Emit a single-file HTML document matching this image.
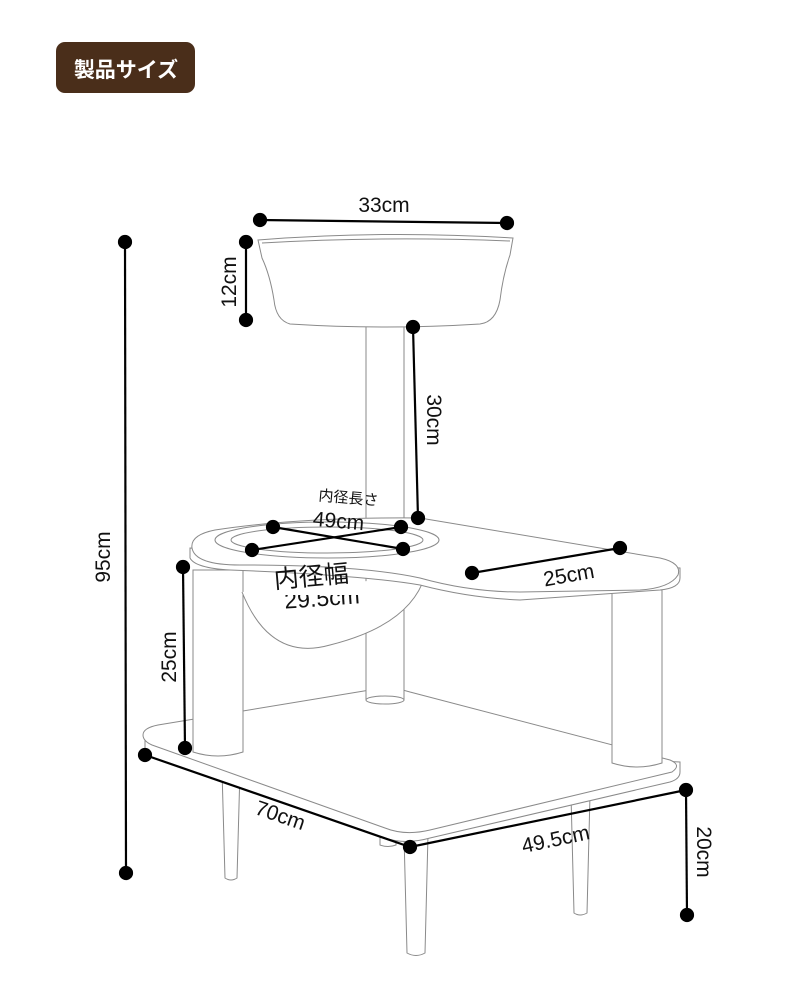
<!DOCTYPE html>
<html><head><meta charset="utf-8"><style>
html,body{margin:0;padding:0;background:#fff;}
svg{display:block;}
text{font-family:"Liberation Sans","Noto Sans CJK JP",sans-serif;fill:#111;}
</style></head><body>
<svg width="790" height="1007" viewBox="0 0 790 1007" xmlns="http://www.w3.org/2000/svg">
<defs><clipPath id="c295"><rect x="240" y="595" width="200" height="40"/></clipPath></defs>
<rect x="56" y="42" width="139" height="51" rx="9" fill="#4a2e1a"/>
<text x="126" y="77" text-anchor="middle" font-size="21" font-weight="bold" style="fill:#fff" font-family="Noto Sans CJK JP,sans-serif">製品サイズ</text>

<g fill="#fff" stroke="#8a8a8a" stroke-width="1">
<path d="M222,770 L240,770 L237,878 Q231,882 225,878 Z"/>
<path d="M571,795 L590,795 L587,913 Q580,917 574,913 Z"/>
<path d="M404,835 L428,835 L425,953 Q416,958 407,953 Z"/>
<path d="M380,825 L396,825 L396,845 Q388,848 380,845 Z"/>
<path d="M145,738 L145,748 Q146,756 160,760 L385,838 Q405,845 430,838 L670,782 Q680,779 680,772 L680,762 Z"/>
<path d="M143,735 Q143,728 158,725 L370,690 Q390,686 410,692 L670,760 Q682,765 672,772 L430,830 Q405,836 385,828 L152,745 Q143,741 143,735 Z"/>
<rect x="366" y="325" width="38" height="375"/>
<ellipse cx="385" cy="700" rx="19" ry="4"/>
<path d="M193,570 L193,752 Q218,760 243,752 L243,570 Z"/>
<path d="M612,590 L612,763 Q637,771 662,763 L662,590 Z"/>
<path d="M242,592 Q270,662 330,645 Q410,625 425,576" />
<path d="M190,548 L190,558 Q195,568 230,570 Q360,575 420,585 Q470,598 520,600 L660,590 Q680,588 680,578 L680,568 Z"/>
<path d="M192,548 Q190,535 215,530 Q300,517 420,518 L660,558 Q682,563 678,575 Q670,588 640,590 L520,592 Q470,592 420,578 Q360,565 240,565 Q195,565 192,548 Z"/>
<ellipse cx="327" cy="540" rx="112" ry="18"/>
<ellipse cx="327" cy="540" rx="96" ry="13"/>
<path d="M258,240 Q385,230 513,238 L510,255 Q503,275 500,300 Q496,322 480,324 Q385,330 290,324 Q276,320 274,300 Q270,275 262,258 Z"/>
<path d="M262,243 Q385,236 510,241"/>
</g>

<g clip-path="url(#c295)"><text x="322" y="606" text-anchor="middle" font-size="23" transform="rotate(-4 322 598)">29.5cm</text></g>

<g stroke="#000" stroke-width="2.2" fill="#000">
<line x1="260" y1="220" x2="507" y2="223"/>
<circle cx="260" cy="220" r="6"/><circle cx="507" cy="223" r="6"/>
<line x1="246" y1="242" x2="246" y2="320"/>
<circle cx="246" cy="242" r="6"/><circle cx="246" cy="320" r="6"/>
<line x1="413" y1="327" x2="418" y2="518"/>
<circle cx="413" cy="327" r="6"/><circle cx="418" cy="518" r="6"/>
<line x1="125" y1="242" x2="126" y2="873"/>
<circle cx="125" cy="242" r="6"/><circle cx="126" cy="873" r="6"/>
<line x1="273" y1="527" x2="403" y2="549"/>
<line x1="252" y1="550" x2="401" y2="527"/>
<circle cx="273" cy="527" r="6"/><circle cx="401" cy="527" r="6"/>
<circle cx="252" cy="550" r="6"/><circle cx="403" cy="549" r="6"/>
<line x1="472" y1="573" x2="620" y2="548"/>
<circle cx="472" cy="573" r="6"/><circle cx="620" cy="548" r="6"/>
<line x1="183" y1="567" x2="185" y2="748"/>
<circle cx="183" cy="567" r="6"/><circle cx="185" cy="748" r="6"/>
<line x1="145" y1="755" x2="410" y2="847"/>
<line x1="410" y1="847" x2="686" y2="790"/>
<circle cx="145" cy="755" r="6"/><circle cx="410" cy="847" r="6"/><circle cx="686" cy="790" r="6"/>
<line x1="686" y1="790" x2="687" y2="915"/>
<circle cx="687" cy="915" r="6"/>
</g>

<g font-size="21">
<text x="384" y="212" text-anchor="middle">33cm</text>
<text transform="translate(236,282) rotate(-90)" text-anchor="middle">12cm</text>
<text transform="translate(427,420) rotate(90)" text-anchor="middle">30cm</text>
<text transform="translate(110,557) rotate(-90)" text-anchor="middle">95cm</text>
<text transform="translate(348,503) rotate(5)" text-anchor="middle" font-size="15">内径長さ</text>
<text transform="translate(338,528) rotate(5)" text-anchor="middle">49cm</text>
<text transform="translate(312,585) rotate(-5)" text-anchor="middle" font-size="25">内径幅</text>
<text transform="translate(570,582) rotate(-10)" text-anchor="middle">25cm</text>
<text transform="translate(176,657) rotate(-90)" text-anchor="middle">25cm</text>
<text transform="translate(278,822) rotate(19)" text-anchor="middle">70cm</text>
<text transform="translate(557,846) rotate(-12)" text-anchor="middle">49.5cm</text>
<text transform="translate(697,852) rotate(90)" text-anchor="middle">20cm</text>
</g>
</svg>
</body></html>
